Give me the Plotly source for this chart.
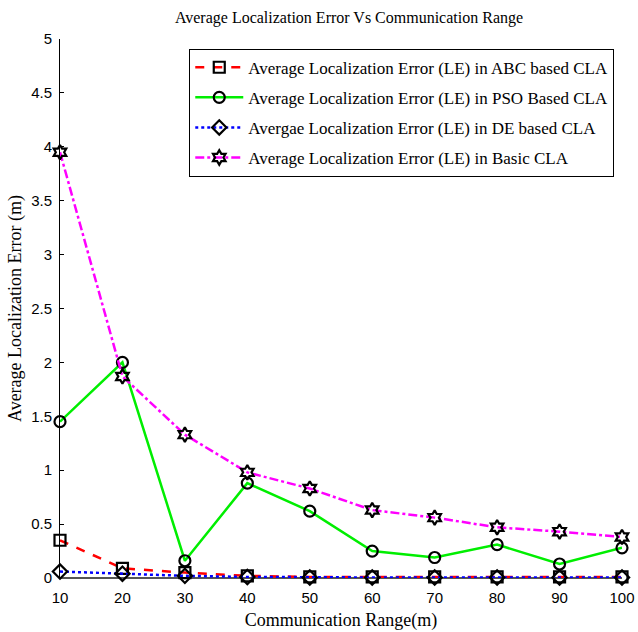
import plotly.graph_objects as go

ranges = [10, 20, 30, 40, 50, 60, 70, 80, 90, 100]
abc = [0.35, 0.09, 0.05, 0.02, 0.01, 0.01, 0.01, 0.01, 0.01, 0.01]
pso = [1.45, 2.0, 0.16, 0.88, 0.62, 0.25, 0.19, 0.31, 0.13, 0.28]
de = [0.06, 0.04, 0.02, 0.01, 0.005, 0.005, 0.005, 0.005, 0.005, 0.005]
basic = [3.95, 1.87, 1.33, 0.98, 0.83, 0.63, 0.56, 0.47, 0.43, 0.38]
yticks = [0, 0.5, 1, 1.5, 2, 2.5, 3, 3.5, 4, 4.5, 5]
ytick_labels = ["0", "0.5", "1", "1.5", "2", "2.5", "3", "3.5", "4", "4.5", "5"]

names = [
    "Average Localization Error (LE) in ABC based CLA",
    "Average Localization Error (LE) in PSO Based CLA",
    "Avergae Localization Error (LE) in DE based CLA",
    "Average Localization Error (LE) in Basic CLA",
]

serif = "Liberation Serif, Times New Roman, serif"
sans = "Liberation Sans, Arial, sans-serif"

fig = go.Figure()
specs = [
    (abc, names[0], "red", "dash", "square-open"),
    (pso, names[1], "#00ee00", "solid", "circle-open"),
    (de, names[2], "blue", "dot", "diamond-open"),
    (basic, names[3], "magenta", "dashdot", "hexagram-open"),
]
for i, (ys, nm, col, dash, sym) in enumerate(specs):
    fig.add_trace(go.Scatter(
        x=ranges, y=ys, name=nm, mode="lines+markers", legendgroup=f"g{i}",
        line=dict(color=col, dash=dash, width=2.5),
        marker=dict(symbol=sym, size=11, color="black",
                    line=dict(color="black", width=2.2)),
        cliponaxis=False,
    ))

fig.update_layout(
    width=638, height=632,
    margin=dict(l=60, r=16, t=39, b=54),
    paper_bgcolor="white", plot_bgcolor="white",
    title=dict(text="Average Localization Error Vs Communication Range",
               x=0.547, xanchor="center", y=0.972, yanchor="middle",
               font=dict(family=serif, size=16, color="black")),
    showlegend=True,
    legend=dict(x=0.23, y=0.982, xanchor="left", yanchor="top",
                bgcolor="white", bordercolor="black", borderwidth=1,
                font=dict(family=serif, size=17, color="black"),
                itemwidth=48, traceorder="grouped", tracegroupgap=5),
    xaxis=dict(range=[10, 100], tickvals=ranges, ticktext=[str(r) for r in ranges],
               showgrid=False, zeroline=False, showline=False, automargin=False,
               ticks="", ticklabelstandoff=9,
               tickfont=dict(family=sans, size=15, color="black"),
               title=dict(text="Communication Range(m)", standoff=8,
                          font=dict(family=serif, size=18, color="black"))),
    yaxis=dict(range=[0, 5], tickvals=yticks, ticktext=ytick_labels,
               showgrid=False, zeroline=True, zerolinecolor="#555555", zerolinewidth=1.5,
               showline=True, linecolor="black", linewidth=1, automargin=False,
               ticks="inside", ticklen=4, tickcolor="black", ticklabelstandoff=4,
               tickfont=dict(family=sans, size=15, color="black"),
               title=dict(text="Average Localization Error (m)", standoff=4,
                          font=dict(family=serif, size=18, color="black"))),
)

fig.write_html("out.html", config={"displayModeBar": False},
               post_script="document.body.style.margin='0';")
